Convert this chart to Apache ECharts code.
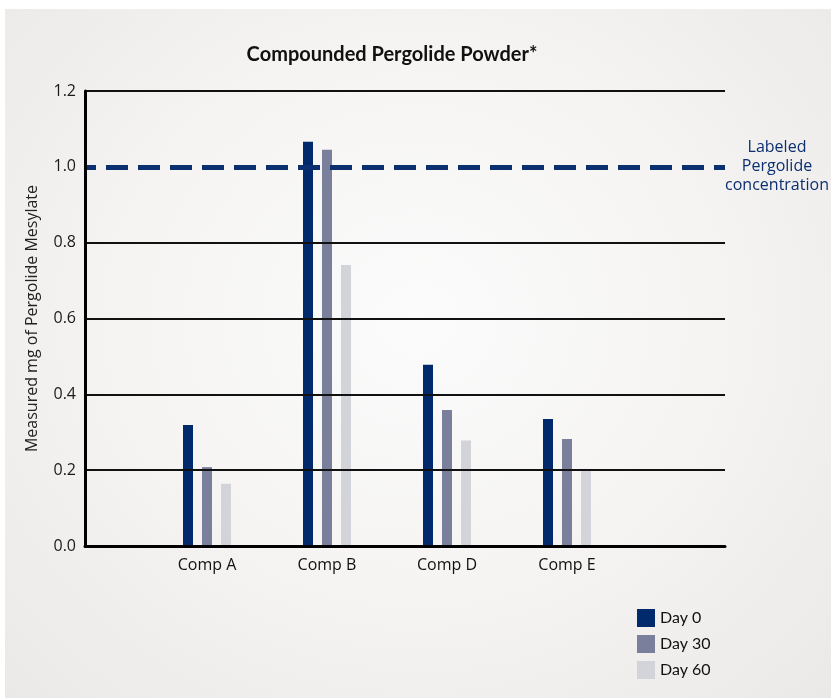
<!DOCTYPE html>
<html>
<head>
<meta charset="utf-8">
<script src="https://cdn.jsdelivr.net/npm/echarts@6/dist/echarts.min.js"></script>
<style>
  html, body { margin: 0; padding: 0; background: #fff; }
  #wrap { position: relative; width: 831px; height: 698px; }
  #panel {
    position: absolute; left: 5px; top: 9px; right: 0; bottom: 0;
    background: radial-gradient(ellipse at 50% 45%, #fbfbfb 0%, #f6f5f4 45%, #ebe9e7 100%);
  }
  #chart { position: absolute; left: 0; top: 0; width: 831px; height: 698px; }
</style>
</head>
<body>
<div id="wrap">
  <div id="panel"></div>
  <div id="chart"></div>
</div>
<script>
// data
const categories = ['Comp A', 'Comp B', 'Comp D', 'Comp E'];
const day0 = [0.319, 1.066, 0.478, 0.335];
const day30 = [0.208, 1.045, 0.359, 0.282];
const day60 = [0.164, 0.741, 0.278, 0.200];
const seriesNames = ['Day 0', 'Day 30', 'Day 60'];
const yTicks = [0, 0.2, 0.4, 0.6, 0.8, 1.0, 1.2];
const labeledLevel = 1.0;

const colors = ['#012a6c', '#7a809b', '#d3d4d9'];
const navy = '#0b2f6f';

const chart = echarts.init(document.getElementById('chart'));

const yMin = yTicks[0];
const yMax = yTicks[yTicks.length - 1];
const yStep = yTicks[1] - yTicks[0];

// no black gridline under the dashed reference line
const gridColors = yTicks.map(t => Math.abs(t - labeledLevel) < 1e-9 ? 'rgba(0,0,0,0)' : '#111');

const barSeries = [day0, day30, day60].map((vals, i) => ({
  name: seriesNames[i],
  type: 'bar',
  xAxisIndex: 1,
  yAxisIndex: 1,
  data: vals,
  barWidth: 10,
  barGap: '90%',
  itemStyle: { color: colors[i] },
  emphasis: { disabled: true }
}));

const option = {
  animation: false,
  backgroundColor: 'transparent',
  title: {
    text: 'Compounded Pergolide Powder*',
    left: 387,
    textAlign: 'center',
    top: 40,
    textStyle: { fontFamily: 'Lato', fontWeight: 'bold', fontSize: 20, color: '#111' }
  },
  legend: {
    data: seriesNames,
    orient: 'vertical',
    left: 632,
    top: 604,
    itemWidth: 18,
    itemHeight: 18,
    itemGap: 8,
    icon: 'rect',
    textStyle: { fontFamily: 'Lato', fontSize: 16, color: '#111' },
    selectedMode: false
  },
  grid: [
    { left: 85, right: 106, top: 91, bottom: 152 },
    { left: 147, right: 204, top: 91, bottom: 152 }
  ],
  xAxis: [
    {
      type: 'category',
      gridIndex: 0,
      data: [''],
      axisLine: { show: true, lineStyle: { color: '#000', width: 3 } },
      axisTick: { show: false },
      axisLabel: { show: false },
      z: 5
    },
    {
      type: 'category',
      gridIndex: 1,
      data: categories,
      axisLine: { show: false },
      axisTick: { show: false },
      axisLabel: { margin: 11, fontFamily: 'Open Sans', fontSize: 16, color: '#111' }
    }
  ],
  yAxis: [
    {
      type: 'value',
      gridIndex: 0,
      min: yMin,
      max: yMax,
      interval: yStep,
      name: 'Measured mg of Pergolide Mesylate',
      nameLocation: 'middle',
      nameGap: 45,
      nameTextStyle: { fontFamily: 'Open Sans', fontSize: 16, color: '#222' },
      axisLine: { show: true, lineStyle: { color: '#000', width: 3 } },
      axisTick: { show: false },
      axisLabel: {
        margin: 9,
        fontFamily: 'Open Sans',
        fontSize: 16,
        color: '#1a1a1a',
        formatter: v => v.toFixed(1)
      },
      splitLine: { show: true, lineStyle: { color: gridColors, width: 2 } },
      z: 5
    },
    {
      type: 'value',
      gridIndex: 1,
      min: yMin,
      max: yMax,
      interval: yStep,
      show: false,
      splitLine: { show: false }
    }
  ],
  series: [
    {
      name: 'labeled',
      type: 'line',
      xAxisIndex: 0,
      yAxisIndex: 0,
      data: [],
      z: 10,
      markLine: {
        silent: true,
        symbol: 'none',
        lineStyle: { color: navy, width: 5, type: [22, 10], dashOffset: 11 },
        label: {
          show: true,
          position: 'end',
          distance: 52,
          align: 'center',
          formatter: 'Labeled\nPergolide\nconcentration',
          fontFamily: 'Open Sans',
          fontSize: 16,
          lineHeight: 19,
          color: navy
        },
        data: [{ yAxis: labeledLevel }]
      }
    },
    ...barSeries
  ]
};

chart.setOption(option);
</script>
</body>
</html>
